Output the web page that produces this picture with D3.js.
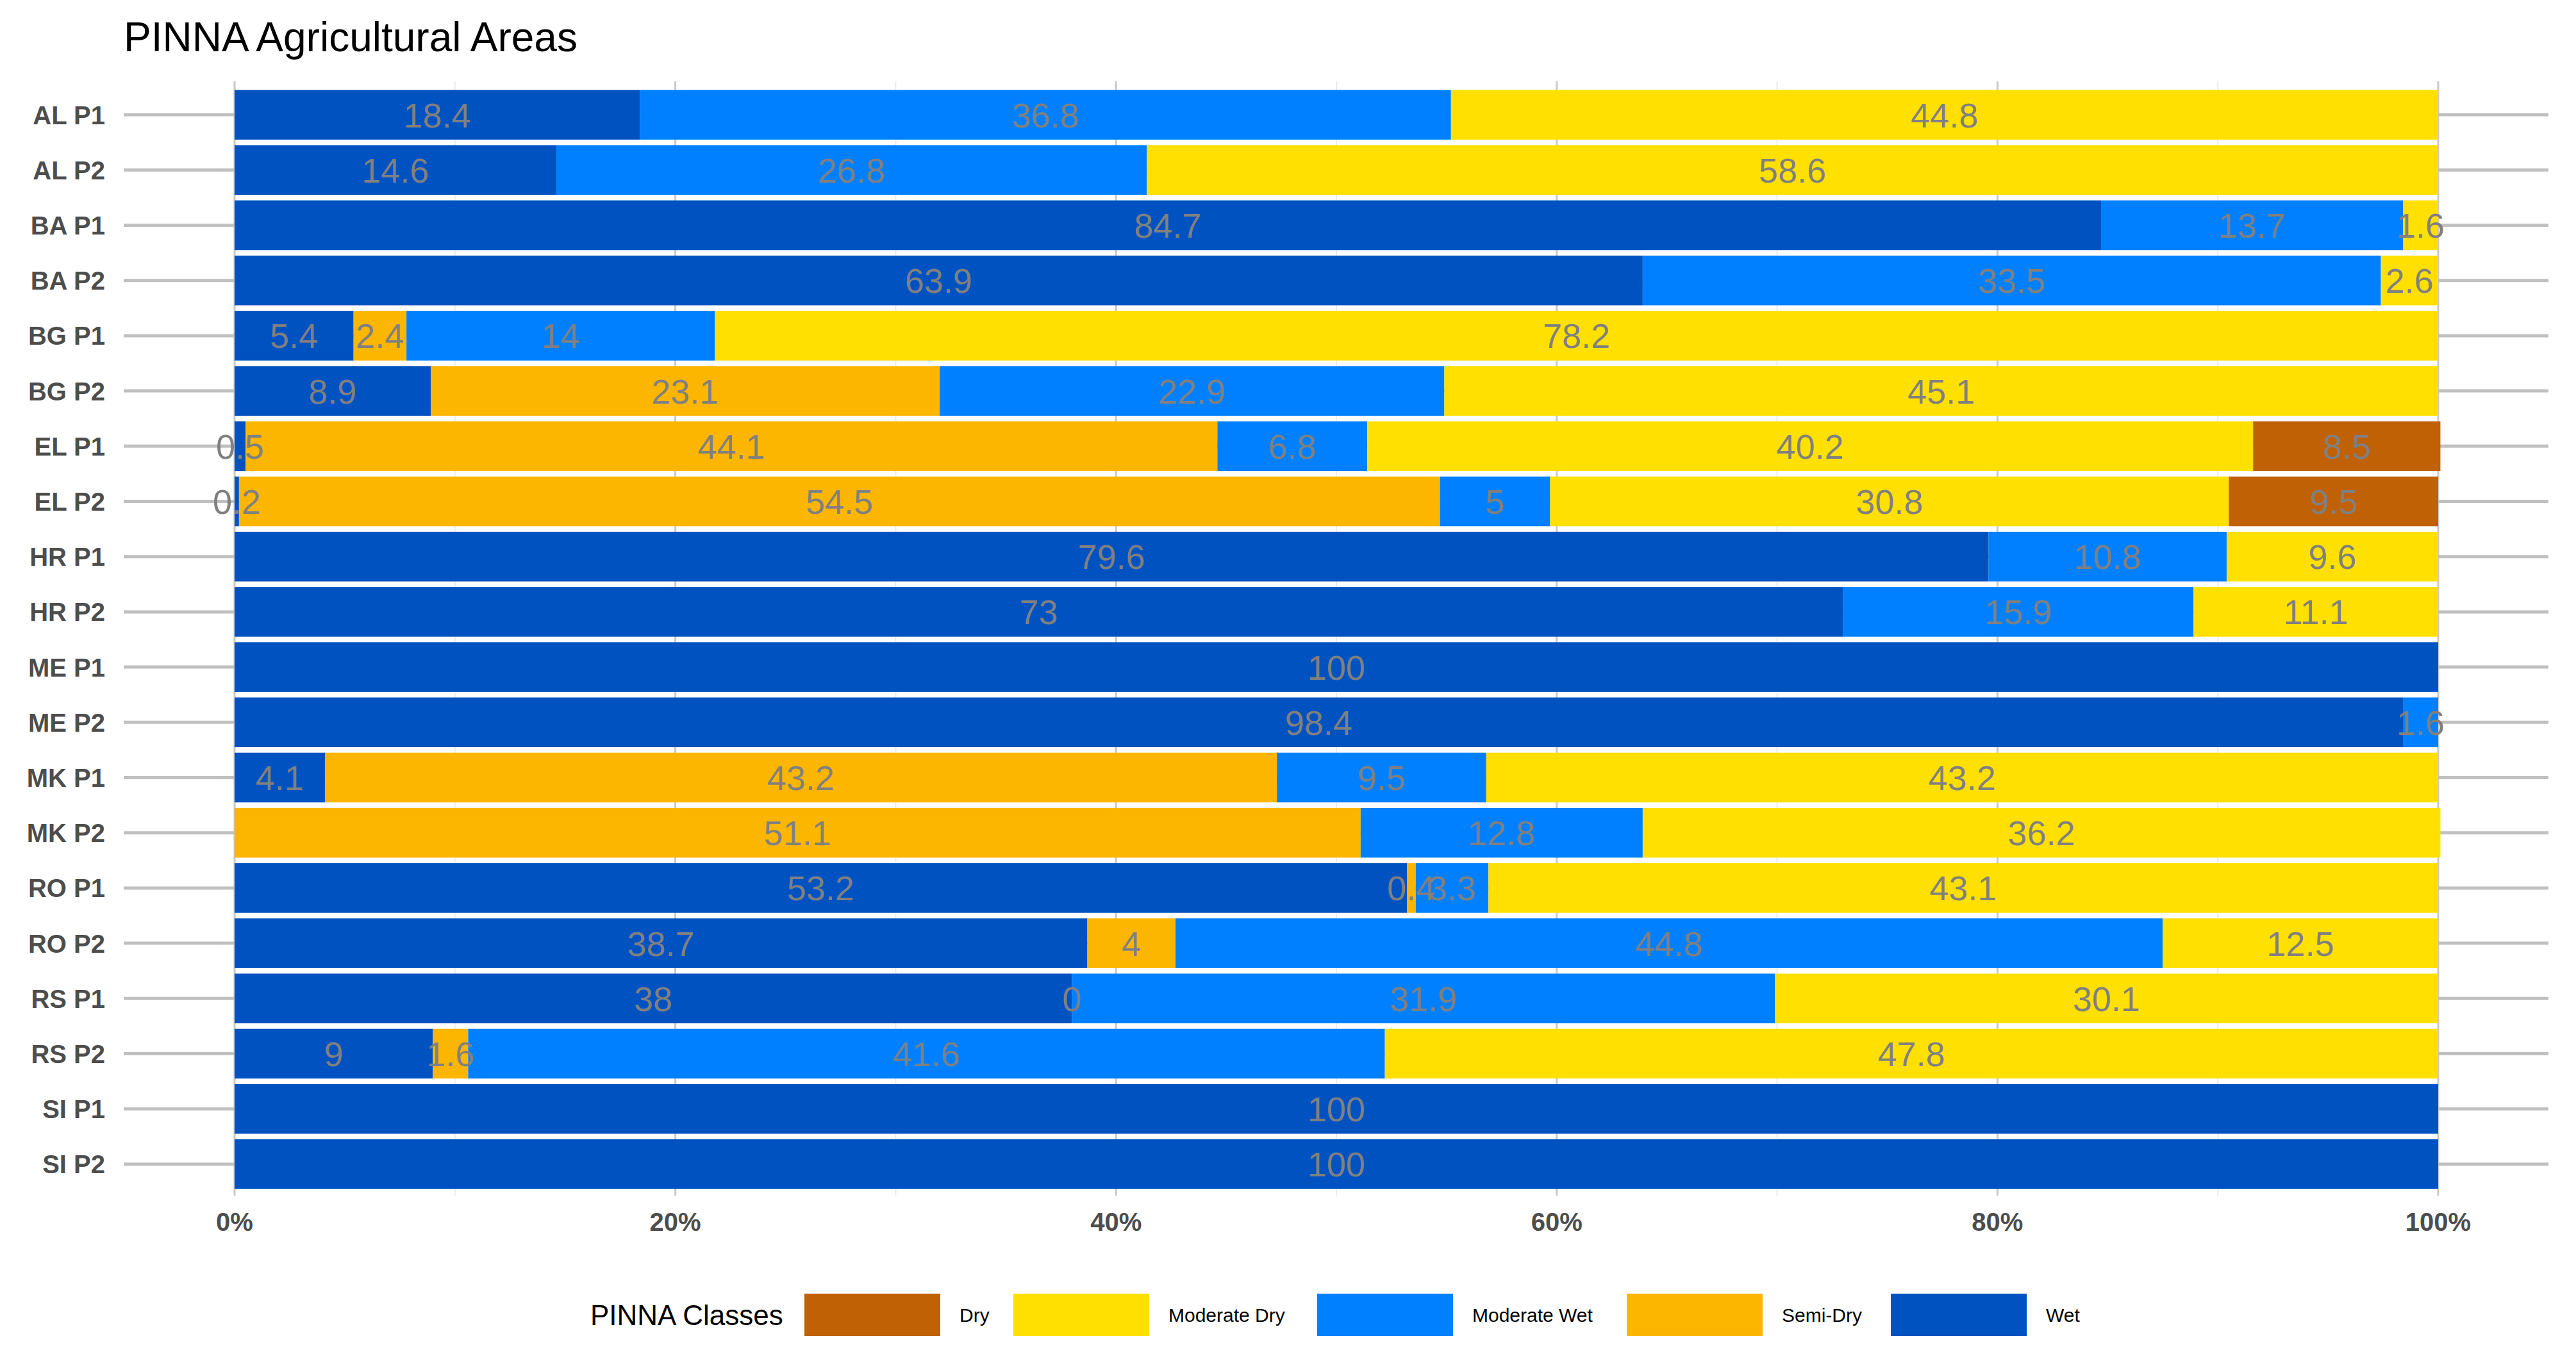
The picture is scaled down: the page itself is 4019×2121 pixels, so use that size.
<!DOCTYPE html>
<html><head><meta charset="utf-8">
<script src="https://cdn.jsdelivr.net/npm/d3@7"></script>
<style>body{margin:0;background:#fff}text{font-family:"Liberation Sans",Arial,sans-serif}</style>
</head><body><svg id="c" width="4019" height="2121"></svg>
<script>
const categories=["AL P1","AL P2","BA P1","BA P2","BG P1","BG P2","EL P1","EL P2","HR P1","HR P2","ME P1","ME P2","MK P1","MK P2","RO P1","RO P2","RS P1","RS P2","SI P1","SI P2"];
const classes=["Wet","Semi-Dry","Moderate Wet","Moderate Dry","Dry"];
const legendOrder=["Dry","Moderate Dry","Moderate Wet","Semi-Dry","Wet"];
const colors={"Dry":"#BF6104","Moderate Dry":"#FFE000","Moderate Wet":"#0080FF","Semi-Dry":"#FDB600","Wet":"#0052C0"};
const wet=[18.4,14.6,84.7,63.9,5.4,8.9,0.5,0.2,79.6,73,100,98.4,4.1,null,53.2,38.7,38,9,100,100];
const semiDry=[null,null,null,null,2.4,23.1,44.1,54.5,null,null,null,null,43.2,51.1,0.4,4,0,1.6,null,null];
const modWet=[36.8,26.8,13.7,33.5,14,22.9,6.8,5,10.8,15.9,null,1.6,9.5,12.8,3.3,44.8,31.9,41.6,null,null];
const modDry=[44.8,58.6,1.6,2.6,78.2,45.1,40.2,30.8,9.6,11.1,null,null,43.2,36.2,43.1,12.5,30.1,47.8,null,null];
const dry=[null,null,null,null,null,null,8.5,9.5,null,null,null,null,null,null,null,null,null,null,null,null];
const xTicks=[0,20,40,60,80,100];
const series={"Wet":wet,"Semi-Dry":semiDry,"Moderate Wet":modWet,"Moderate Dry":modDry,"Dry":dry};

const svg=d3.select("#c");
const L=366,R=3804,T=136,B=1860;
const x=d3.scaleLinear().domain([0,100]).range([L,R]);
const y=d3.scaleBand().domain(categories).range([T,B]).paddingInner(0.1).paddingOuter(0.05);
const g=svg.append("g");
[10,30,50,70,90].forEach(v=>g.append("line").attr("x1",x(v)).attr("x2",x(v)).attr("y1",127).attr("y2",1866).attr("stroke","#ebebeb").attr("stroke-width",2));
xTicks.forEach(v=>g.append("line").attr("x1",x(v)).attr("x2",x(v)).attr("y1",127).attr("y2",1866).attr("stroke","#c8c8c8").attr("stroke-width",3));
categories.forEach(c=>g.append("line").attr("x1",193).attr("x2",3976).attr("y1",y(c)+y.bandwidth()/2).attr("y2",y(c)+y.bandwidth()/2).attr("stroke","#c0c0c0").attr("stroke-width",5));
const labels=[];
categories.forEach((c,i)=>{let acc=0;classes.forEach(k=>{const v=series[k][i];if(v==null)return;
 g.append("rect").attr("x",x(acc)).attr("y",y(c)).attr("width",x(acc+v)-x(acc)).attr("height",y.bandwidth()).attr("fill",colors[k]);
 labels.push({x:x(acc+v/2),y:y(c)+y.bandwidth()/2,t:v});acc+=v;});});
labels.forEach(l=>g.append("text").attr("x",l.x).attr("y",l.y).attr("dy","0.36em").attr("text-anchor","middle").attr("font-size",54).attr("fill","#808080").text(l.t));
categories.forEach(c=>g.append("text").attr("x",164).attr("y",y(c)+y.bandwidth()/2).attr("dy","0.36em").attr("text-anchor","end").attr("font-size",40).attr("font-weight","bold").attr("fill","#4d4d4d").text(c));
xTicks.forEach(v=>g.append("text").attr("x",x(v)).attr("y",1907).attr("dy","0.36em").attr("text-anchor","middle").attr("font-size",40).attr("font-weight","bold").attr("fill","#4d4d4d").text(v+"%"));
svg.append("text").attr("x",193).attr("y",80).attr("font-size",64).attr("fill","#000").text("PINNA Agricultural Areas");
const lg=svg.append("g");
lg.append("text").attr("x",921).attr("y",2052).attr("dy","0.36em").attr("font-size",44).text("PINNA Classes");
const kx=[1255,1581,2055,2538,2950];
legendOrder.forEach((k,i)=>{lg.append("rect").attr("x",kx[i]).attr("y",2019).attr("width",212).attr("height",66).attr("fill",colors[k]);
 lg.append("text").attr("x",kx[i]+242).attr("y",2052).attr("dy","0.36em").attr("font-size",30).text(k);});
</script></body></html>
